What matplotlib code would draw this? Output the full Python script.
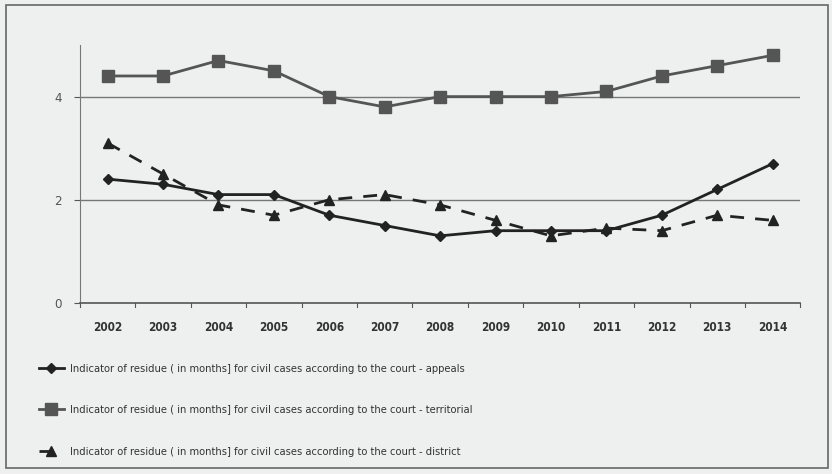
import matplotlib.pyplot as plt
from matplotlib.patches import Rectangle

# data
years = [str(y) for y in range(2002, 2015)]
appeals = [2.4, 2.3, 2.1, 2.1, 1.7, 1.5, 1.3, 1.4, 1.4, 1.4, 1.7, 2.2, 2.7]
territorial = [4.4, 4.4, 4.7, 4.5, 4.0, 3.8, 4.0, 4.0, 4.0, 4.1, 4.4, 4.6, 4.8]
district = [3.1, 2.5, 1.9, 1.7, 2.0, 2.1, 1.9, 1.6, 1.3, 1.45, 1.4, 1.7, 1.6]

labels = [
    "Indicator of residue ( in months] for civil cases according to the court - appeals",
    "Indicator of residue ( in months] for civil cases according to the court - territorial",
    "Indicator of residue ( in months] for civil cases according to the court - district",
]

plt.rcParams["font.family"] = "DejaVu Sans"
plt.rcParams["font.stretch"] = "condensed"

bg = "#eef0f0"
fig = plt.figure(figsize=(8.32, 4.74), dpi=100)
fig.patch.set_facecolor(bg)
fig.patches.append(Rectangle((0.007, 0.012), 0.988, 0.978, transform=fig.transFigure,
                             fill=False, edgecolor="#666666", linewidth=1.2))

ax = fig.add_axes([0.096, 0.361, 0.866, 0.544])
ax.set_facecolor(bg)

x = list(range(len(years)))
l1, = ax.plot(x, appeals, color="#222222", linewidth=2, marker="D", markersize=5)
l2, = ax.plot(x, territorial, color="#555555", linewidth=2, marker="s", markersize=8)
l3, = ax.plot(x, district, color="#222222", linewidth=2, linestyle=(0, (5, 4)),
              marker="^", markersize=7)

ax.set_xlim(-0.5, len(years) - 0.5)
ax.set_ylim(0, 5)
ax.set_yticks([0, 2, 4])
ax.set_xticks(x)
ax.set_xticklabels(years, fontsize=8.5, fontweight="bold", color="#333333")
ax.tick_params(axis="x", length=0, pad=13)
ax.tick_params(axis="y", labelsize=9.5, colors="#555555", length=4, pad=9)
for yv in [2, 4]:
    ax.axhline(yv, color="#777777", linewidth=1, zorder=0)

# excel-like category ticks between years
for b in [i - 0.5 for i in range(len(years) + 1)]:
    ax.plot([b, b], [0, -0.08], color="#555555", linewidth=0.8, clip_on=False)

for s in ["top", "right"]:
    ax.spines[s].set_visible(False)
ax.spines["left"].set_color("#777777")
ax.spines["bottom"].set_color("#555555")
ax.spines["bottom"].set_linewidth(1.2)

fig.legend([l1, l2, l3], labels, loc="upper left", bbox_to_anchor=(0.035, 0.254),
           frameon=False, fontsize=8, handlelength=2.2, handletextpad=0.6,
           labelspacing=2.85, labelcolor="#333333")

fig.savefig("out.png", dpi=100, facecolor=bg)
